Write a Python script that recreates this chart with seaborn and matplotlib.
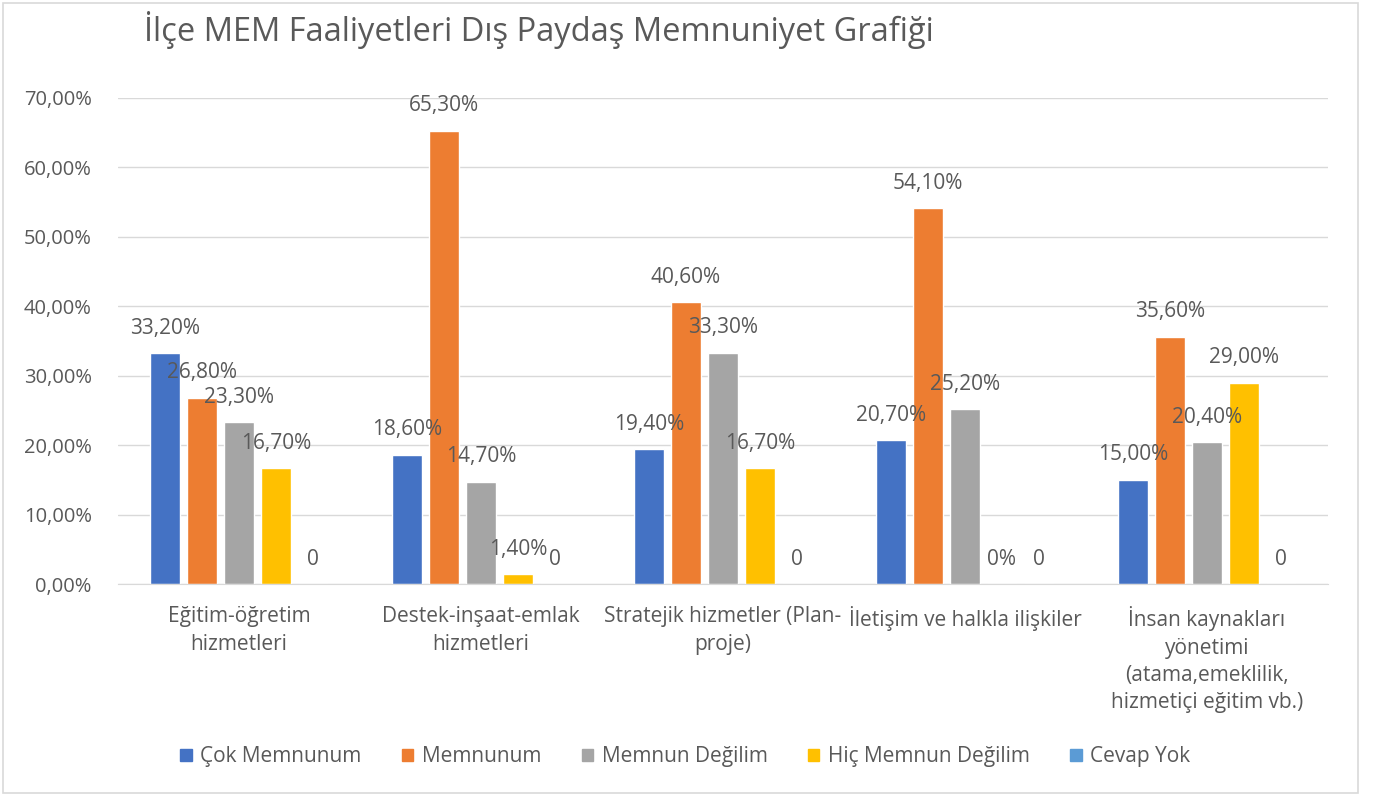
import seaborn as sns
import pandas as pd
import matplotlib.pyplot as plt
from matplotlib.patches import Rectangle
from matplotlib.ticker import FuncFormatter

categories = ["Eğitim-öğretim\nhizmetleri",
              "Destek-inşaat-emlak\nhizmetleri",
              "Stratejik hizmetler (Plan-\nproje)",
              "İletişim ve halkla ilişkiler",
              "İnsan kaynakları\nyönetimi\n(atama,emeklilik,\nhizmetiçi eğitim vb.)"]
series = ["Çok Memnunum", "Memnunum", "Memnun Değilim", "Hiç Memnun Değilim", "Cevap Yok"]

cok_memnun = [33.2, 18.6, 19.4, 20.7, 15.0]
memnun = [26.8, 65.3, 40.6, 54.1, 35.6]
memnun_degil = [23.3, 14.7, 33.3, 25.2, 20.4]
hic_memnun_degil = [16.7, 1.4, 16.7, 0.0, 29.0]
cevap_yok = [0.0, 0.0, 0.0, 0.0, 0.0]

# the labels Excel printed differently from the usual "xx,xx%"
special_labels = {("Cevap Yok", i): "0" for i in range(5)}
special_labels[("Hiç Memnun Değilim", 3)] = "0%"

colors = ["#4472C4", "#ED7D31", "#A5A5A5", "#FFC000", "#5B9BD5"]
txt = "#595959"

values = [cok_memnun, memnun, memnun_degil, hic_memnun_degil, cevap_yok]
rows = []
for s, vals in zip(series, values):
    for c, v in zip(categories, vals):
        rows.append({"kategori": c, "seri": s, "deger": v / 100})
df = pd.DataFrame(rows)

sns.set_style("white")
plt.rcParams["font.family"] = ["Open Sans", "DejaVu Sans"]

fig = plt.figure(figsize=(13.76, 7.96), dpi=100)
ax = fig.add_axes([0.0858, 0.2663, 0.8792, 0.6107])

sns.barplot(data=df, x="kategori", y="deger", hue="seri", order=categories,
            hue_order=series, palette=colors, width=0.765, gap=0.19,
            errorbar=None, ax=ax, saturation=1)

ax.set_ylim(0, 0.7)
ax.set_yticks([i / 10 for i in range(8)])
ax.yaxis.set_major_formatter(FuncFormatter(lambda v, p: f"{v*100:.2f}%".replace(".", ",")))
ax.grid(axis="y", color="#D9D9D9", linewidth=1)
ax.set_axisbelow(True)
for side in ["left", "right", "top"]:
    ax.spines[side].set_visible(False)
ax.spines["bottom"].set_color("#D9D9D9")
ax.tick_params(axis="both", length=0, labelsize=14.5, labelcolor=txt)
ax.tick_params(axis="y", pad=19)
ax.tick_params(axis="x", labelsize=15, pad=16)
ax.set_xlabel("")
ax.set_ylabel("")
for lab in ax.get_xticklabels():
    lab.set_linespacing(1.4)
    lab.set_verticalalignment("top")

for s, cont in zip(series, ax.containers):
    for i, bar in enumerate(cont):
        h = bar.get_height()
        label = special_labels.get((s, i), f"{h*100:.2f}%".replace(".", ","))
        ax.annotate(label, (bar.get_x() + bar.get_width() / 2, h),
                    xytext=(0, 18), textcoords="offset points",
                    ha="center", va="center", fontsize=15, color=txt)

ax.legend_.remove()
handles = [Rectangle((0, 0), 1, 1, color=c) for c in colors]
fig.legend(handles, series, loc="center", bbox_to_anchor=(0.498, 0.049),
           ncol=5, frameon=False, fontsize=15, labelcolor=txt,
           handlelength=0.55, handleheight=0.55, handletextpad=0.4, columnspacing=1.95)

fig.text(0.105, 0.962, "İlçe MEM Faaliyetleri Dış Paydaş Memnuniyet Grafiği",
         fontsize=23.5, color=txt, ha="left", va="center")

fig.patches.append(Rectangle((3 / 1376, 3 / 796), 1355 / 1376, 790 / 796,
                             transform=fig.transFigure, fill=False,
                             edgecolor="#D9D9D9", linewidth=1.2))

fig.savefig("out.png", dpi=100)
